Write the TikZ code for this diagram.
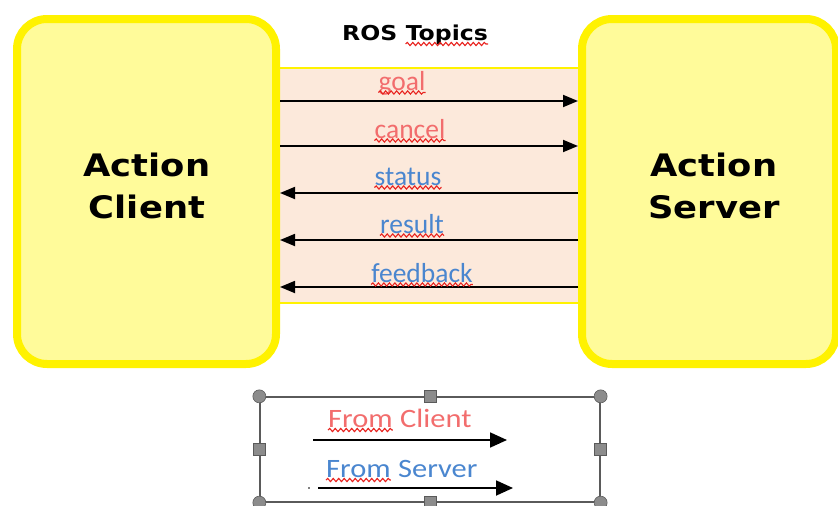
\documentclass[tikz,border=0pt]{standalone}
\usepackage{fontspec}
\setmainfont{Carlito}
\newfontfamily\titlefont{DejaVu Sans}
\usetikzlibrary{arrows.meta,decorations.pathmorphing}
\definecolor{ylwline}{HTML}{FFF200}
\definecolor{ylwfill}{HTML}{FFFB9A}
\definecolor{peach}{HTML}{FCE9DB}
\definecolor{redtxt}{HTML}{F26D6D}
\definecolor{bluetxt}{HTML}{4A86CF}
\definecolor{squigred}{HTML}{E8231F}
\definecolor{handlegray}{HTML}{8C8C8C}
\definecolor{framegray}{HTML}{5A5A5A}
\begin{document}
\begin{tikzpicture}[x=1pt,y=-1pt,
  actbox/.style={draw=ylwline,fill=ylwfill,line width=8pt,rounded corners=30pt,
    minimum width=259pt,minimum height=345pt,inner sep=0pt},
  boxtext/.style={font=\titlefont\bfseries\fontsize{31}{42}\selectfont,align=center,inner sep=0pt},
  titletext/.style={font=\titlefont\bfseries\fontsize{20.5}{22}\selectfont,inner sep=0pt,anchor=base west},
  lbl/.style={font=\fontsize{27.5}{30}\selectfont,inner sep=0pt,anchor=base},
  leglbl/.style={font=\fontsize{26.5}{30}\selectfont,inner sep=0pt,anchor=base west},
  squig/.style={draw=squigred,line width=1.1pt,decorate,
    decoration={snake,segment length=5.5pt,amplitude=1.6pt}},
  arr/.style={draw=black,line width=1.8pt,-{Triangle[length=15pt,width=12pt]}},
  legarr/.style={draw=black,line width=1.8pt,-{Triangle[length=17pt,width=15pt]}},
  hcirc/.style={circle,draw=framegray,fill=handlegray,minimum size=13pt,inner sep=0pt,line width=0.6pt},
  hsq/.style={rectangle,draw=framegray,fill=handlegray,minimum size=12pt,inner sep=0pt,line width=0.6pt}
]
\useasboundingbox (0,0) rectangle (838,506);
\clip (0,0) rectangle (838,506);
% band of topics
\node[draw=ylwline,fill=peach,line width=1.5pt,minimum width=306pt,minimum height=235pt,inner sep=0pt] (band) at (429,185.5) {};
% action boxes
\node[actbox] (client) at (146.5,191.5) {};
\node[actbox,minimum width=254pt] (server) at (709,191.5) {};
\node[boxtext] (clientlbl) at (147,186) {\scalebox{1.14}[1]{Action}\\\scalebox{1.14}[1]{Client}};
\node[boxtext] (serverlbl) at (714,186) {\scalebox{1.14}[1]{Action}\\\scalebox{1.14}[1]{Server}};
% title
\node[titletext] (ros) at (342,40) {\scalebox{1.15}[1]{ROS}};
\node[titletext] (topics) at ([xshift=8pt]ros.base east) {\scalebox{1.15}[1]{Topics}};
\draw[squig] ([yshift=-4pt]topics.base west) -- ([yshift=-4pt]topics.base east);
% arrow heights
\coordinate (ygoal) at (0,101);
\coordinate (ycancel) at (0,146);
\coordinate (ystatus) at (0,193);
\coordinate (yresult) at (0,240);
\coordinate (yfeedback) at (0,287);
\draw[arr] (client.east |- ygoal) -- (server.west |- ygoal);
\draw[arr] (client.east |- ycancel) -- (server.west |- ycancel);
\draw[arr] (server.west |- ystatus) -- (client.east |- ystatus);
\draw[arr] (server.west |- yresult) -- (client.east |- yresult);
\draw[arr] (server.west |- yfeedback) -- (client.east |- yfeedback);
% labels
\node[lbl,text=redtxt] (goal) at (402,90) {goal};
\node[lbl,text=redtxt] (cancel) at (410,138) {cancel};
\node[lbl,text=bluetxt] (status) at (408,185) {status};
\node[lbl,text=bluetxt] (result) at (412,233) {result};
\node[lbl,text=bluetxt] (feedback) at (422,282) {feedback};
\foreach \n in {goal,cancel,status,result,feedback}{
  \draw[squig] ([yshift=-2.5pt]\n.base west) -- ([yshift=-2.5pt]\n.base east);
}
% legend
\node[draw=framegray,line width=1.3pt,minimum width=340pt,minimum height=105pt,inner sep=0pt] (legend) at (430,449.5) {};
\foreach \a/\nm in {north west/hnw,north east/hne,south west/hsw,south east/hse}{
  \node[hcirc] (\nm) at (legend.\a) {};
}
\foreach \a/\nm in {north/hn,south/hs,west/hw,east/he}{
  \node[hsq] (\nm) at (legend.\a) {};
}
\node[leglbl,text=redtxt] (fromc) at (328,427) {\scalebox{1.15}[1]{From}};
\node[leglbl,text=redtxt] (client2) at ([xshift=7pt]fromc.base east) {\scalebox{1.15}[1]{Client}};
\draw[squig] ([yshift=-3pt]fromc.base west) -- ([yshift=-3pt]fromc.base east);
\node[leglbl,text=bluetxt] (froms) at (326,477) {\scalebox{1.15}[1]{From}};
\node[leglbl,text=bluetxt] (server2) at ([xshift=7pt]froms.base east) {\scalebox{1.15}[1]{Server}};
\draw[squig] ([yshift=-3pt]froms.base west) -- ([yshift=-3pt]froms.base east);
\coordinate (lc1) at (313,440);
\coordinate (lc2) at (507,440);
\coordinate (ls1) at (318,488);
\coordinate (ls2) at (513,488);
\draw[legarr] (lc1) -- (lc2);
\draw[legarr] (ls1) -- (ls2);
\fill[black] (309,488) circle (0.9pt);
\end{tikzpicture}
\end{document}
